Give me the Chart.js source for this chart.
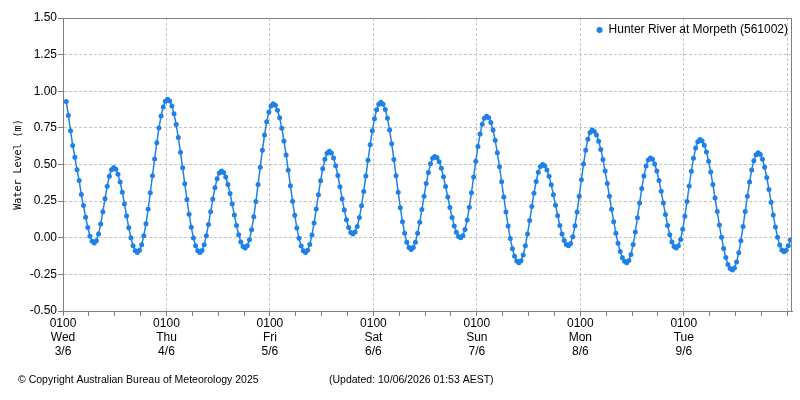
<!DOCTYPE html>
<html lang="en">
<head>
    <meta charset="UTF-8">
    <title>Hunter River at Morpeth - Water Level</title>
    <script src="https://cdn.jsdelivr.net/npm/chart.js"></script>
    <style>
        html, body { margin: 0; padding: 0; background: #ffffff; }
        #wrap { width: 800px; height: 400px; position: relative; }
    </style>
</head>
<body>
    <div id="wrap"><canvas id="levelChart" width="800" height="400"></canvas></div>

    <script>
        const seriesName = 'Hunter River at Morpeth (561002)';
        const dayNames = ['Wed', 'Thu', 'Fri', 'Sat', 'Sun', 'Mon', 'Tue'];
        const dayDates = ['3/6', '4/6', '5/6', '6/6', '7/6', '8/6', '9/6'];
        const yTicks = [-0.5, -0.25, 0, 0.25, 0.5, 0.75, 1.0, 1.25, 1.5];

        // readings every half hour, hours counted from Wed 3/6 00:00
        const firstHour = 1.75;
        const stepHours = 0.5;
        const levels = [
            0.93, 0.835, 0.73, 0.63, 0.55, 0.465, 0.39, 0.295, 0.22, 0.14, 0.07, 0.01, -0.024, -0.035,
            -0.02, 0.025, 0.094, 0.178, 0.267, 0.351, 0.42, 0.465, 0.48,
            0.468, 0.434, 0.38, 0.311, 0.231, 0.149, 0.069, 0.0, -0.054, -0.088, -0.10,
            -0.086, -0.048, 0.014, 0.096, 0.196, 0.307, 0.423, 0.538, 0.649, 0.749, 0.831, 0.893, 0.931, 0.945,
            0.934, 0.90, 0.846, 0.773, 0.684, 0.584, 0.477, 0.368, 0.261, 0.161, 0.072, -0.001, -0.055, -0.089, -0.10,
            -0.087, -0.047, 0.014, 0.091, 0.178, 0.264, 0.341, 0.402, 0.442, 0.455,
            0.445, 0.414, 0.364, 0.302, 0.23, 0.155, 0.083, 0.021, -0.029, -0.06, -0.07,
            -0.055, -0.014, 0.054, 0.143, 0.248, 0.363, 0.482, 0.597, 0.702, 0.791, 0.859, 0.90, 0.915,
            0.904, 0.871, 0.819, 0.748, 0.661, 0.565, 0.46, 0.355, 0.25, 0.154, 0.067, -0.004, -0.056, -0.089, -0.10,
            -0.086, -0.046, 0.019, 0.101, 0.196, 0.294, 0.389, 0.471, 0.535, 0.576, 0.59,
            0.579, 0.545, 0.492, 0.425, 0.348, 0.267, 0.19, 0.123, 0.07, 0.036, 0.025,
            0.039, 0.076, 0.138, 0.219, 0.316, 0.421, 0.529, 0.634, 0.731, 0.812, 0.874, 0.912, 0.925,
            0.912, 0.875, 0.815, 0.736, 0.641, 0.534, 0.423, 0.311, 0.204, 0.109, 0.03, -0.03, -0.067, -0.08,
            -0.067, -0.03, 0.03, 0.105, 0.192, 0.283, 0.37, 0.445, 0.505, 0.542, 0.555,
            0.546, 0.518, 0.474, 0.416, 0.349, 0.278, 0.206, 0.139, 0.081, 0.037, 0.009, 0.0,
            0.014, 0.056, 0.121, 0.208, 0.308, 0.415, 0.522, 0.623, 0.709, 0.774, 0.816, 0.83,
            0.819, 0.787, 0.735, 0.665, 0.58, 0.485, 0.382, 0.278, 0.175, 0.08, -0.005, -0.075, -0.127, -0.159, -0.17,
            -0.157, -0.117, -0.054, 0.026, 0.117, 0.213, 0.304, 0.384, 0.447, 0.487, 0.50,
            0.491, 0.463, 0.419, 0.361, 0.294, 0.222, 0.151, 0.084, 0.026, -0.018, -0.046, -0.055,
            -0.039, 0.007, 0.082, 0.176, 0.284, 0.396, 0.504, 0.598, 0.673, 0.719, 0.735,
            0.726, 0.701, 0.659, 0.603, 0.534, 0.455, 0.371, 0.283, 0.194, 0.11, 0.031, -0.038, -0.094, -0.136, -0.161, -0.17,
            -0.156, -0.114, -0.046, 0.039, 0.137, 0.238, 0.336, 0.421, 0.489, 0.531, 0.545,
            0.535, 0.504, 0.455, 0.391, 0.317, 0.238, 0.158, 0.084, 0.02, -0.029, -0.06, -0.07,
            -0.055, -0.012, 0.058, 0.146, 0.247, 0.353, 0.454, 0.542, 0.612, 0.655, 0.67,
            0.66, 0.632, 0.585, 0.523, 0.448, 0.363, 0.271, 0.179, 0.087, 0.003, -0.073, -0.135, -0.182, -0.21, -0.22,
            -0.206, -0.166, -0.103, -0.02, 0.077, 0.18, 0.283, 0.38, 0.463, 0.526, 0.566, 0.58,
            0.569, 0.535, 0.481, 0.411, 0.33, 0.243, 0.155, 0.074, 0.004, -0.05, -0.084, -0.095,
            -0.085, -0.055, -0.015
        ];

        const copyrightText = '\u00A9 Copyright Australian Bureau of Meteorology 2025';
        const updatedText = '(Updated: 10/06/2026 01:53 AEST)';

        const lineColor = '#1f80e8';
        const gridColor = '#c4c4c4';
        const axisColor = '#808080';
        const uiFont = "'Liberation Sans', Arial, sans-serif";

        const points = levels.map((v, i) => ({ x: firstHour + i * stepHours, y: v }));

        // ticks every 6 hours, labelled at 0100 each day
        const xTickHours = [];
        for (let h = 1; h <= 170; h += 6) xTickHours.push(h);

        const framePlugin = {
            id: 'frameAndText',
            afterDraw(chart) {
                const { ctx, chartArea } = chart;
                ctx.save();
                ctx.strokeStyle = axisColor;
                ctx.lineWidth = 1;
                ctx.beginPath();
                ctx.moveTo(Math.round(chartArea.left) + 0.5, Math.round(chartArea.top) + 0.5);
                ctx.lineTo(Math.round(chartArea.right) - 0.5, Math.round(chartArea.top) + 0.5);
                ctx.lineTo(Math.round(chartArea.right) - 0.5, Math.round(chartArea.bottom) + 0.5);
                ctx.stroke();

                // legend inside the plot, top right
                ctx.font = '12px ' + uiFont;
                ctx.fillStyle = '#000000';
                ctx.textBaseline = 'middle';
                ctx.textAlign = 'right';
                const ly = chartArea.top + 12;
                const textRight = chartArea.right - 4;
                ctx.fillText(seriesName, textRight, ly);
                const tw = ctx.measureText(seriesName).width;
                ctx.fillStyle = lineColor;
                ctx.beginPath();
                ctx.arc(textRight - tw - 9, ly, 3, 0, Math.PI * 2);
                ctx.fill();

                // footer
                ctx.fillStyle = '#000000';
                ctx.textAlign = 'left';
                ctx.font = '10.5px ' + uiFont;
                ctx.fillText(copyrightText, 18, 380);
                ctx.fillText(updatedText, 329, 380);
                ctx.restore();
            }
        };

        new Chart(document.getElementById('levelChart').getContext('2d'), {
            type: 'line',
            data: {
                datasets: [{
                    label: seriesName,
                    data: points,
                    borderColor: lineColor,
                    backgroundColor: lineColor,
                    borderWidth: 1.5,
                    pointRadius: 2.5,
                    pointBorderWidth: 0,
                    pointBackgroundColor: lineColor,
                    tension: 0,
                    fill: false
                }]
            },
            options: {
                responsive: false,
                animation: false,
                events: [],
                layout: { padding: { top: 18, right: 8, bottom: 29, left: 0 } },
                plugins: {
                    legend: { display: false },
                    tooltip: { enabled: false }
                },
                scales: {
                    x: {
                        type: 'linear',
                        min: 1,
                        max: 170.1,
                        afterBuildTicks: (scale) => {
                            scale.ticks = xTickHours.map(h => ({ value: h }));
                        },
                        afterFit: (scale) => { scale.height = 60; },
                        grid: {
                            color: (c) => ((c.tick && (c.tick.value - 1) % 24 === 0) ? gridColor : 'rgba(0,0,0,0)'),
                            tickColor: axisColor,
                            tickLength: 5,
                            drawOnChartArea: true
                        },
                        border: { display: true, color: axisColor, width: 1, dash: [3, 2] },
                        ticks: {
                            autoSkip: false,
                            maxRotation: 0,
                            padding: 0,
                            color: '#000000',
                            font: { family: uiFont, size: 12, lineHeight: 1.2 },
                            callback: (value) => {
                                if ((value - 1) % 24 !== 0) return '';
                                const d = (value - 1) / 24;
                                if (d >= dayNames.length) return '';
                                return ['0100', dayNames[d], dayDates[d]];
                            }
                        }
                    },
                    y: {
                        min: -0.5,
                        max: 1.5,
                        afterBuildTicks: (scale) => {
                            scale.ticks = yTicks.map(v => ({ value: v }));
                        },
                        afterFit: (scale) => { scale.width = 63; },
                        grid: {
                            color: gridColor,
                            tickColor: axisColor,
                            tickLength: 5
                        },
                        border: { display: true, color: axisColor, width: 1, dash: [3, 2] },
                        ticks: {
                            padding: 1,
                            color: '#000000',
                            font: { family: uiFont, size: 12 },
                            callback: (value) => Number(value).toFixed(2)
                        },
                        title: {
                            display: true,
                            text: 'Water Level (m)',
                            color: '#000000',
                            padding: { top: 12, bottom: 0 },
                            font: { family: "'DejaVu Sans Mono', monospace", size: 10 }
                        }
                    }
                }
            },
            plugins: [framePlugin]
        });
    </script>
</body>
</html>
